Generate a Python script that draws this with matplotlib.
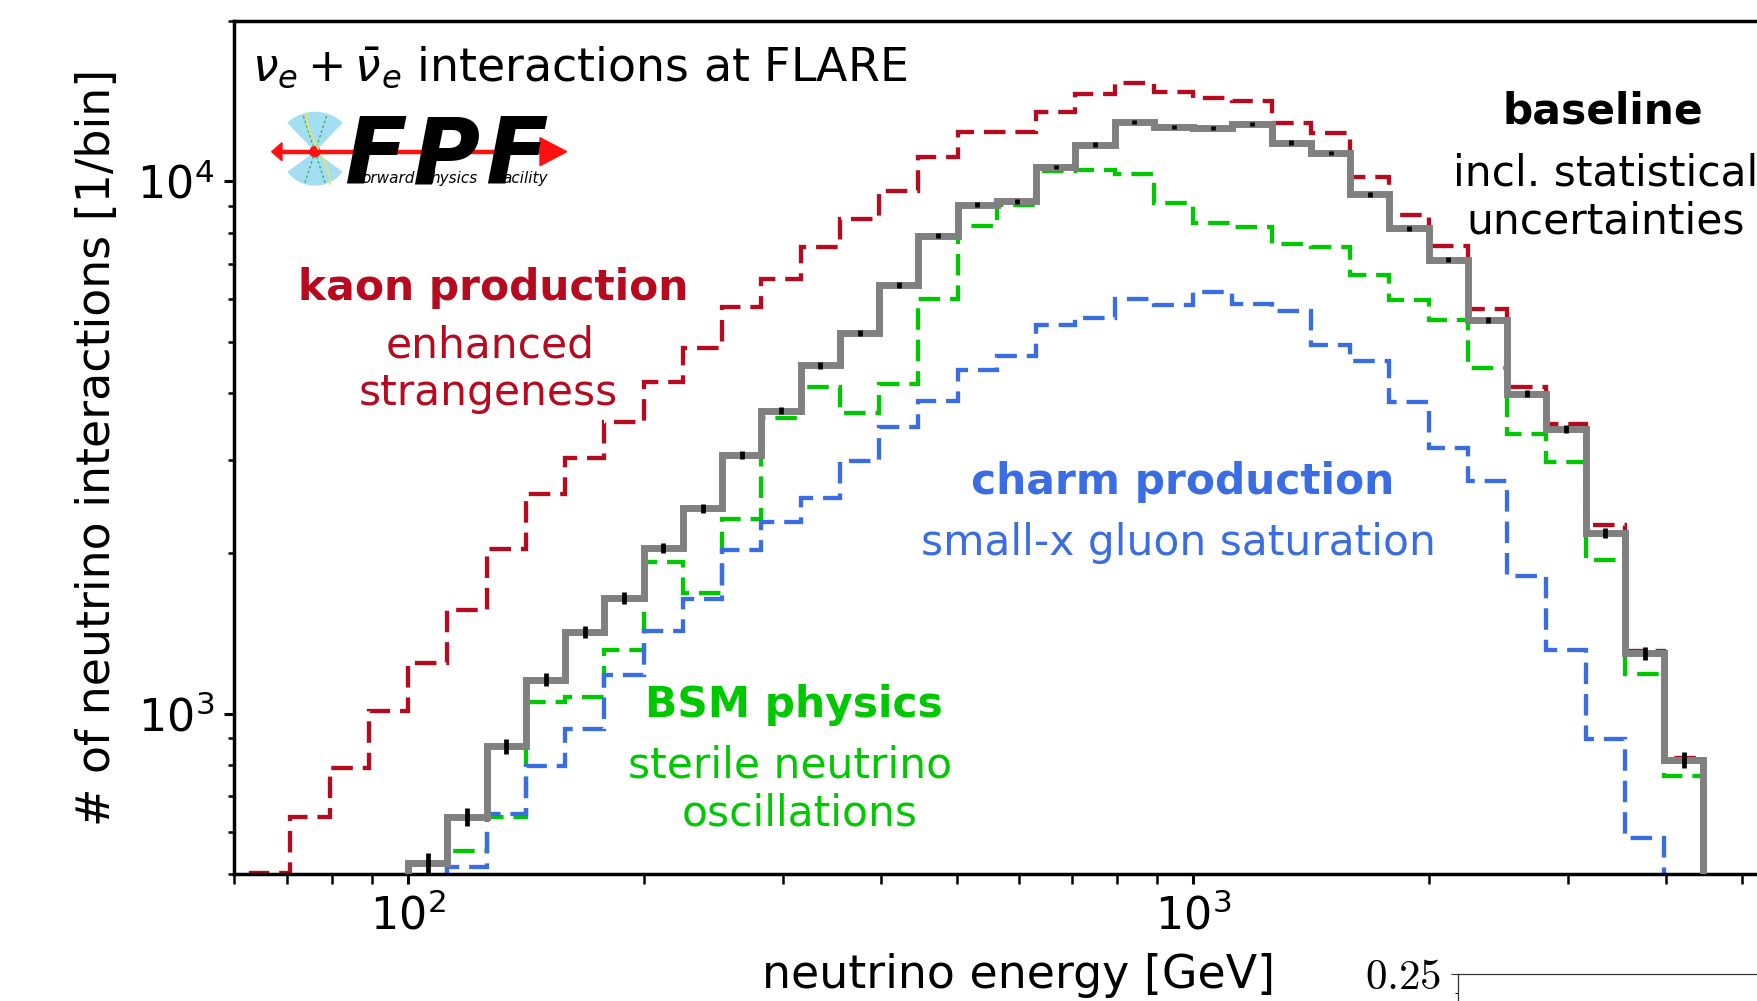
import numpy as np
import matplotlib.pyplot as plt
from matplotlib.patches import Wedge, Circle, Polygon

W, H = 1758, 1001

# histograms: log10(E/GeV) of the first bin edge, 20 bins per decade
bin_width = 0.05
kaon_start = 1.80
base_start = 2.00
bsm_start = 2.05
charm_start = 2.05

# kaon production (enhanced strangeness)
kaon = [502, 640, 790, 1010, 1246, 1563, 2042, 2585, 3016, 3527, 4200, 4864,
        5800, 6555, 7534, 8477, 9590, 11090, 12370, 12370, 13520, 14570, 15310,
        14690, 14360, 14180, 12870, 12340, 10200, 8640, 7568, 5768, 4100, 3500,
        2260, 1310, 825]
# baseline
base = [524, 641, 868, 1159, 1425, 1651, 2045, 2430, 3066, 3710, 4514, 5187,
        6380, 7900, 9040, 9173, 10630, 11720, 12935, 12640, 12570, 12800, 11820,
        11290, 9452, 8156, 7129, 5495, 3990, 3426, 2183, 1300, 820]
# BSM physics (sterile neutrino oscillations)
bsm = [553, 641, 1050, 1073, 1320, 1930, 1685, 2320, 3600, 4110, 3679, 4170,
       6020, 8237, 9012, 10450, 10490, 10340, 9107, 8349, 8203, 7610, 7522,
       6662, 5977, 5495, 4457, 3354, 2971, 1945, 1188, 763]
# charm production (small-x gluon saturation)
charm = [515, 647, 796, 935, 1181, 1433, 1640, 2030, 2289, 2541, 2980, 3449,
         3870, 4427, 4707, 5360, 5546, 6020, 5861, 6194, 5888, 5706, 4936, 4600,
         3846, 3151, 2733, 1818, 1317, 896, 585]

c_red = '#B70A1E'
c_green = '#00C800'
c_blue = '#3A6DE3'
c_gray = '#808080'


def edges(start, vals):
    return 10 ** (start + bin_width * np.arange(len(vals) + 1))


def fx(px):
    return px / W


def fy(py):
    return 1 - py / H


fig = plt.figure(figsize=(W / 100, H / 100), dpi=100)
ax = fig.add_axes([fx(234), fy(874), 1570 / W, (874 - 21) / H])

dash = (0, (5, 2.3))
ax.stairs(kaon, edges(kaon_start, kaon), baseline=100, color=c_red, lw=3.1, ls=dash, zorder=2)
ax.stairs(bsm, edges(bsm_start, bsm), baseline=100, color=c_green, lw=3.1, ls=dash, zorder=2)
ax.stairs(charm, edges(charm_start, charm), baseline=100, color=c_blue, lw=3.1, ls=dash, zorder=2)
ax.stairs(base, edges(base_start, base), baseline=100, color=c_gray, lw=5, zorder=3)

e = edges(base_start, base)
centers = np.sqrt(e[:-1] * e[1:])
ax.errorbar(centers, base, yerr=np.sqrt(base), fmt='none', ecolor='black',
            elinewidth=3.4, capsize=0, zorder=4)

ax.set_xscale('log')
ax.set_yscale('log')
ax.set_xlim(60, 6000)
ax.set_ylim(500, 20000)
ax.yaxis.set_minor_formatter(plt.NullFormatter())
ax.xaxis.set_minor_formatter(plt.NullFormatter())
for s in ax.spines.values():
    s.set_linewidth(2.5)
ax.tick_params(which='major', length=7.5, width=2.2, labelsize=32, pad=7)
ax.tick_params(axis='y', which='minor', length=4.5, width=1.8)
ax.tick_params(axis='x', which='minor', length=7.5, width=1.8)
ax.set_xlabel('neutrino energy [GeV]', fontsize=33, labelpad=10)
ax.set_ylabel('# of neutrino interactions [1/bin]', fontsize=33, labelpad=12)

# title and annotations
fig.text(fx(252), fy(80), r'$\nu_e + \bar{\nu}_e$ interactions at FLARE',
         fontsize=33, va='baseline')

notes = [
    ('kaon production', 493, 300, c_red, 'bold'),
    ('enhanced', 490, 357, c_red, 'normal'),
    ('strangeness', 488, 405, c_red, 'normal'),
    ('charm production', 1183, 494, c_blue, 'bold'),
    ('small-x gluon saturation', 1178, 555, c_blue, 'normal'),
    ('BSM physics', 794, 717, c_green, 'bold'),
    ('sterile neutrino', 790, 777, c_green, 'normal'),
    ('oscillations', 800, 825, c_green, 'normal'),
    ('baseline', 1603, 123, 'black', 'bold'),
    ('incl. statistical', 1606, 185, 'black', 'normal'),
    ('uncertainties', 1606, 233, 'black', 'normal'),
]
for txt, px, py, col, wt in notes:
    fig.text(fx(px), fy(py), txt, color=col, fontsize=30.5, fontweight=wt,
             ha='center', va='baseline')

# FPF logo
lg = fig.add_axes([fx(260), fy(210), 320 / W, 110 / H])
lg.set_xlim(0, 320)
lg.set_ylim(110, 0)
lg.axis('off')
cx, cy = 55, 51.7
lg.add_patch(Wedge((cx, cy), 40, -134, -46, color='#a3def2', lw=0))
lg.add_patch(Wedge((cx, cy), 34, 36, 144, color='#a3def2', lw=0))
for ang in [-108, -72, 72, 108]:
    r = 39 if ang < 0 else 33
    lg.plot([cx, cx + r * np.cos(np.radians(ang))], [cy, cy + r * np.sin(np.radians(ang))],
            color='#2fae3c', lw=0.9, ls=(0, (2, 2)))
t = np.linspace(0, 1, 30)
lg.plot(cx + 12 * np.sin(np.pi * (t - 0.5)) + 3, 13 + t * 71, color='#e6e66a', lw=1.2)
big = dict(fontsize=66, fontweight='heavy', fontstyle='italic', va='baseline')
lg.text(84, 83.3, 'F', **big)
lg.text(152, 83.3, 'P', **big)
lg.text(225, 83.3, 'F', **big)
for txt, px in [('orward', 101), ('hysics', 170), ('acility', 242)]:
    lg.text(px, 83.3, txt, fontsize=11, fontstyle='italic', va='baseline')
lg.plot([16, 284], [cy, cy], color='#ff1010', lw=3.2, solid_capstyle='butt')
lg.add_patch(Polygon([[11.7, cy], [22, cy - 9], [22, cy + 9]], color='#ff1010'))
lg.add_patch(Polygon([[306.7, cy], [280, cy - 14], [280, cy + 14]], color='#ff1010'))
lg.add_patch(Circle((cx, cy), 5, color='#ff1010'))

# top of the ratio panel below
ax2 = fig.add_axes([fx(1458), fy(1164), 0.3, 190 / H])
ax2.set_ylim(0.15, 0.25)
ax2.set_xticks([])
ax2.set_yticks([0.25])
ax2.set_yticks([0.24], minor=True)
ax2.tick_params(labelleft=False, length=5, width=0.8, color='#333333')
ax2.tick_params(which='minor', length=2.5, width=0.8)
for s in ax2.spines.values():
    s.set_linewidth(0.9)
    s.set_color('#333333')
fig.text(fx(1441), fy(977), r'$0.25$', fontsize=31, ha='right', va='center',
         math_fontfamily='cm')

fig.savefig('out.png', dpi=100)
